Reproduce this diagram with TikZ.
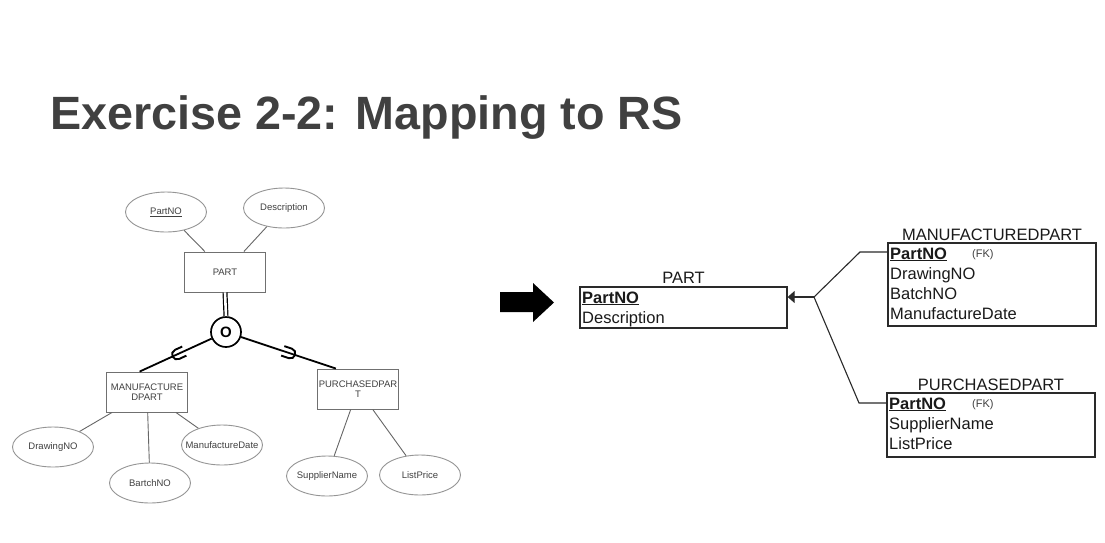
\documentclass[tikz,border=0pt]{standalone}
\usepackage{fontspec}
\setmainfont{Liberation Sans}
\usetikzlibrary{shapes.geometric,arrows.meta,calc}
\definecolor{titlegray}{HTML}{404040}
\definecolor{ergray}{HTML}{959595}
\definecolor{erbox}{HTML}{707070}
\definecolor{erline}{HTML}{666666}
\definecolor{ertext}{HTML}{404040}
\definecolor{reltext}{HTML}{1A1A1A}
\definecolor{relline}{HTML}{2A2A2A}
\newcommand\erlbl[1]{\makebox[0pt]{#1}}
\begin{document}
\begin{tikzpicture}[x=1pt,y=-1pt,
  erent/.style={draw=erbox, line width=0.9pt, rectangle, minimum width=81, minimum height=40, inner sep=0,
    font=\fontsize{9.5}{10.5}\selectfont, text=ertext, align=center},
  erattr/.style={draw=ergray, line width=0.9pt, ellipse, minimum width=81, minimum height=40, inner sep=0,
    font=\fontsize{9.5}{10.5}\selectfont, text=ertext},
  erconn/.style={draw=erline, line width=0.9pt},
  specline/.style={draw=black, line width=1.8pt},
  subsetsym/.pic={\draw[line width=1.9pt] (-8,5) -- (0,5) arc[start angle=90,end angle=-90,radius=5] -- (-8,-5);},
  reltab/.style={draw=relline, line width=1.3pt, rectangle, inner sep=0},
  relhead/.style={anchor=base, inner sep=0, font=\fontsize{16.5}{18}\selectfont, text=reltext},
  relrow/.style={anchor=base west, inner sep=0, font=\fontsize{16.5}{18}\selectfont, text=reltext},
  fk/.style={anchor=base west, inner sep=0, font=\fontsize{11}{12}\selectfont, text=ertext},
  relconn/.style={draw=relline, line width=1.1pt}]
\fill[white] (0,0) rectangle (1105,542);
\useasboundingbox (0,0) rectangle (1105,542);

% title
\node[anchor=base west, inner sep=0, font=\fontsize{46.7}{56}\selectfont\bfseries, text=titlegray] (title) at (50,129) {Exercise 2-2: Mapping to RS};

% ER diagram
\node[erattr] (pno) at (166,212) {\erlbl{\underline{PartNO}}};
\node[erattr] (desc) at (284,208) {\erlbl{Description}};
\node[erent] (part) at (225,272) {PART};
\node[circle, draw, line width=1.7pt, minimum size=30, inner sep=0, font=\fontsize{15}{15}\selectfont\bfseries] (circ) at (226,332) {O};
\node[erent] (mp) at (147,392) {MANUFACTURE\\DPART};
\node[erent] (pp) at (358,389) {PURCHASEDPAR\\T};
\node[erattr] (dno) at (53,447) {\erlbl{DrawingNO}};
\node[erattr] (bno) at (150,483) {\erlbl{BartchNO}};
\node[erattr] (mdate) at (222,445) {\erlbl{ManufactureDate}};
\node[erattr] (sname) at (327,476) {\erlbl{SupplierName}};
\node[erattr] (lprice) at (420,475) {\erlbl{ListPrice}};

\draw[erconn] (pno) -- (part);
\draw[erconn] (desc) -- (part);
\draw[erconn] (mp) -- (dno);
\draw[erconn] (mp) -- (bno);
\draw[erconn] (mp) -- (mdate);
\draw[erconn] (pp) -- (sname);
\draw[erconn] (pp) -- (lprice);

\draw[black, line width=1.2pt, double, double distance=2.6pt] (part.south) -- (circ.north);
\coordinate (mpt) at ($(mp.north west)!0.41!(mp.north east)$);
\coordinate (ppt) at ($(pp.north west)!0.23!(pp.north east)$);
\draw[specline] (circ) -- pic[pos=0.48, sloped, allow upside down]{subsetsym} (mpt);
\draw[specline] (circ) -- pic[pos=0.52, sloped, allow upside down]{subsetsym} (ppt);

% big arrow
\fill[black] (500,292) -- (533,292) -- (533,283) -- (554,302.5) -- (533,322) -- (533,312) -- (500,312) -- cycle;

% relational schema
\node[reltab, minimum width=207, minimum height=41] (rpart) at (683.5,307.5) {};
\node[relhead] (rparth) at (683.5,283) {PART};
\node[relrow] (rp1) at (582,303) {\underline{\textbf{PartNO}}};
\node[relrow] (rp2) at (582,323) {Description};

\node[reltab, minimum width=208, minimum height=83] (rmfg) at (992,284.5) {};
\node[relhead] (rmfgh) at (992,240) {MANUFACTUREDPART};
\node[relrow] (m1) at (890,259) {\underline{\textbf{PartNO}}};
\node[fk] (m1fk) at (972,257) {(FK)};
\node[relrow] (m2) at (890,279) {DrawingNO};
\node[relrow] (m3) at (890,299) {BatchNO};
\node[relrow] (m4) at (890,319) {ManufactureDate};

\node[reltab, minimum width=208, minimum height=64] (rpur) at (991,425) {};
\node[relhead] (rpurh) at (991,390) {PURCHASEDPART};
\node[relrow] (u1) at (889,409) {\underline{\textbf{PartNO}}};
\node[fk] (u1fk) at (972,407) {(FK)};
\node[relrow] (u2) at (889,429) {SupplierName};
\node[relrow] (u3) at (889,449) {ListPrice};

\coordinate (j) at (814,297);
\coordinate (ka) at (860,252);
\coordinate (kb) at (859,403);
\draw[relconn, -{Triangle[length=7pt,width=12pt]}] (j) -- (rpart.east |- j);
\draw[relconn] (j) -- (ka) -- (rmfg.west |- ka);
\draw[relconn] (j) -- (kb) -- (rpur.west |- kb);
\end{tikzpicture}
\end{document}
